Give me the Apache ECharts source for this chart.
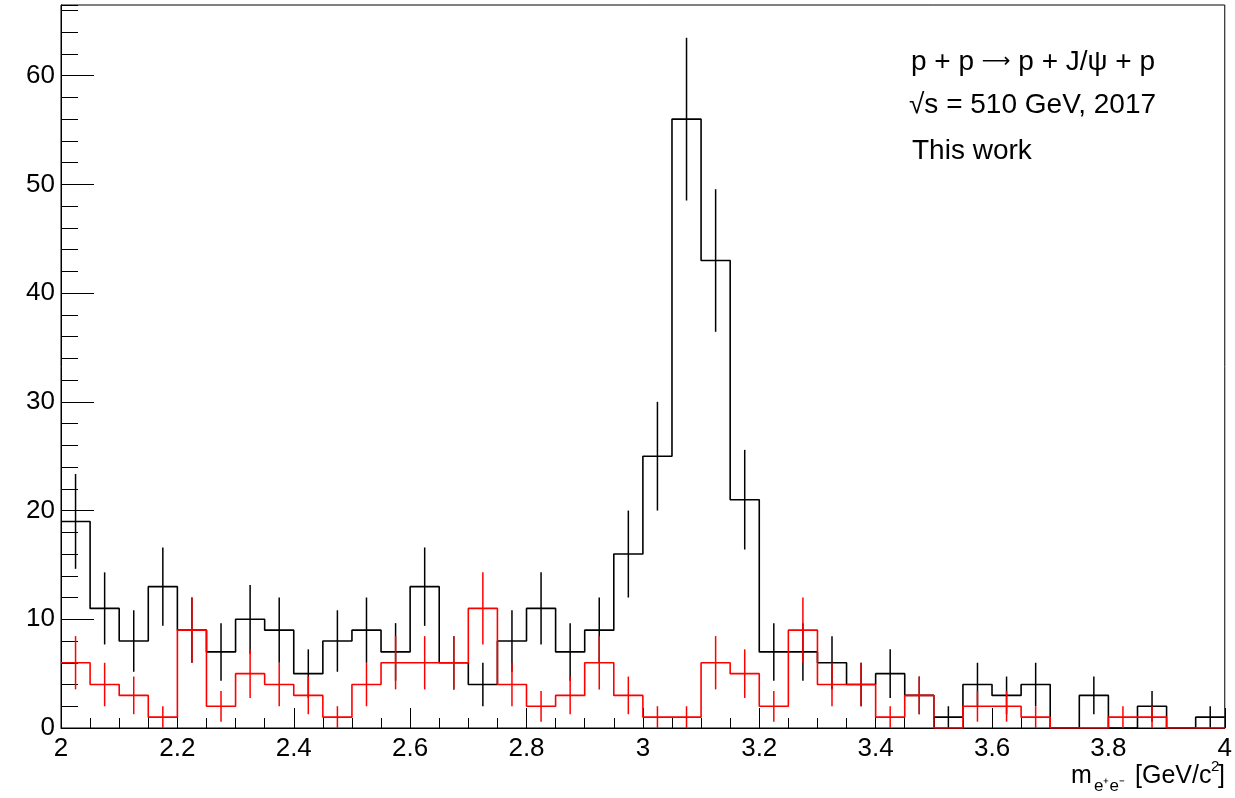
<!DOCTYPE html>
<html>
<head>
<meta charset="utf-8">
<script src="https://cdn.jsdelivr.net/npm/echarts@6/dist/echarts.min.js"></script>
<style>
  html, body { margin: 0; padding: 0; background: #fff; }
  #chart { width: 1235px; height: 798px; }
</style>
</head>
<body>
<div id="chart"></div>
<script>
// ---- data ----
const binLow = 2.0;
const binWidth = 0.05;
const blackCounts = [19, 11, 8, 13, 9, 7, 10, 9, 5, 8,
                     9, 7, 13, 6, 4, 8, 11, 7, 9, 16,
                     25, 56, 43, 21, 7, 7, 6, 4, 5, 3,
                     1, 4, 3, 4, 0, 3, 0, 2, 0, 1];
const redCounts = [6, 4, 3, 1, 9, 2, 5, 4, 3, 1,
                   4, 6, 6, 6, 11, 4, 2, 3, 6, 3,
                   1, 1, 6, 5, 2, 9, 4, 4, 1, 3,
                   0, 2, 2, 1, 0, 0, 1, 1, 0, 0];
const xTickLabels = ['2', '2.2', '2.4', '2.6', '2.8', '3', '3.2', '3.4', '3.6', '3.8', '4'];
const yTickLabels = ['0', '10', '20', '30', '40', '50', '60'];

// ---- derived structures ----
function stepData(counts) {
  const d = counts.map((v, i) => [+(binLow + i * binWidth).toFixed(4), v]);
  d.push([+(binLow + counts.length * binWidth).toFixed(4), counts[counts.length - 1]]);
  return d;
}
function errData(counts) {
  return counts.map((v, i) => [+(binLow + (i + 0.5) * binWidth).toFixed(4), v, Math.sqrt(v)]);
}
function errRender(color) {
  return function (params, api) {
    const x = api.value(0), v = api.value(1), e = api.value(2);
    if (!(v > 0)) return null;
    const p1 = api.coord([x, v - e]);
    const p2 = api.coord([x, v + e]);
    return {
      type: 'line',
      shape: { x1: p1[0], y1: p1[1], x2: p2[0], y2: p2[1] },
      style: { stroke: color, lineWidth: 1.5 }
    };
  };
}

const FONT = '"Liberation Sans", Arial, Helvetica, sans-serif';
const chart = echarts.init(document.getElementById('chart'), null, { renderer: 'canvas' });

const yMax = 66.5;
const option = {
  animation: false,
  backgroundColor: '#fff',
  grid: { left: 61, right: 9, top: 5, bottom: 70, show: true, borderColor: '#000', borderWidth: 1, backgroundColor: 'transparent' },
  xAxis: {
    type: 'value', min: 2, max: 4, interval: 0.2,
    axisLine: { show: true, onZero: false, lineStyle: { color: '#000', width: 1 } },
    axisTick: { show: true, inside: true, length: 20, lineStyle: { color: '#000', width: 1 } },
    minorTick: { show: true, splitNumber: 4, length: 10, lineStyle: { color: '#000', width: 1 } },
    axisLabel: {
      color: '#000', fontSize: 26, fontFamily: FONT, margin: 8,
      formatter: function (v) {
        const idx = Math.round((v - 2) / 0.2);
        return xTickLabels[idx] !== undefined ? xTickLabels[idx] : '';
      }
    },
    splitLine: { show: false }
  },
  yAxis: [
    {
      type: 'value', min: 0, max: yMax, interval: 10, position: 'left', offset: 0,
      axisLine: { show: true, lineStyle: { color: '#000', width: 1 } },
      axisTick: { show: true, inside: true, length: 33, lineStyle: { color: '#000', width: 1 } },
      axisLabel: {
        color: '#000', fontSize: 26, fontFamily: FONT, margin: 6, showMaxLabel: false,
        formatter: function (v) {
          const idx = Math.round(v / 10);
          return (Math.abs(v - idx * 10) < 1e-6 && yTickLabels[idx] !== undefined) ? yTickLabels[idx] : '';
        }
      },
      splitLine: { show: false }
    },
    {
      type: 'value', min: 0, max: yMax, interval: 2, position: 'left', offset: 0,
      axisLine: { show: false },
      axisTick: { show: true, inside: true, length: 17, lineStyle: { color: '#000', width: 1 } },
      axisLabel: { show: false },
      splitLine: { show: false }
    }
  ],
  series: [
    {
      type: 'line', step: 'end', data: stepData(blackCounts), showSymbol: false, symbol: 'none',
      lineStyle: { color: '#000', width: 1.6 }, z: 3
    },
    {
      type: 'custom', data: errData(blackCounts), renderItem: errRender('#000'),
      encode: { x: 0, y: 1 }, z: 4
    },
    {
      type: 'line', step: 'end', data: stepData(redCounts), showSymbol: false, symbol: 'none',
      lineStyle: { color: '#ff0000', width: 1.6 }, z: 5
    },
    {
      type: 'custom', data: errData(redCounts), renderItem: errRender('#ff0000'),
      encode: { x: 0, y: 1 }, z: 6
    }
  ],
  graphic: [
    {
      type: 'text', left: 911, top: 48,
      style: {
        text: '{t|p + p }{a|\u27F6}{t| p + J/\u03C8 + p}',
        rich: {
          t: { font: '28px ' + FONT, fill: '#000' },
          a: { font: '20px "DejaVu Sans", sans-serif', fill: '#000' }
        }
      }
    },
    { type: 'text', left: 909, top: 91, style: { text: '\u221As = 510 GeV, 2017', font: '28px ' + FONT, fill: '#000' } },
    { type: 'text', left: 912, top: 137, style: { text: 'This work', font: '28px ' + FONT, fill: '#000' } },
    // axis title: m_{e+e-} [GeV/c^2]
    { type: 'text', left: 1071, top: 764, style: { text: 'm', font: '25px ' + FONT, fill: '#000' } },
    { type: 'text', left: 1094, top: 778, style: { text: 'e\u207Ae\u207B', font: '17px ' + FONT, fill: '#000' } },
    { type: 'text', left: 1135, top: 764, style: { text: '[GeV/c', font: '25px ' + FONT, fill: '#000' } },
    { type: 'text', left: 1211, top: 759, style: { text: '2', font: '15px ' + FONT, fill: '#000' } },
    { type: 'text', left: 1218, top: 764, style: { text: ']', font: '25px ' + FONT, fill: '#000' } }
  ]
};
chart.setOption(option);
</script>
</body>
</html>
